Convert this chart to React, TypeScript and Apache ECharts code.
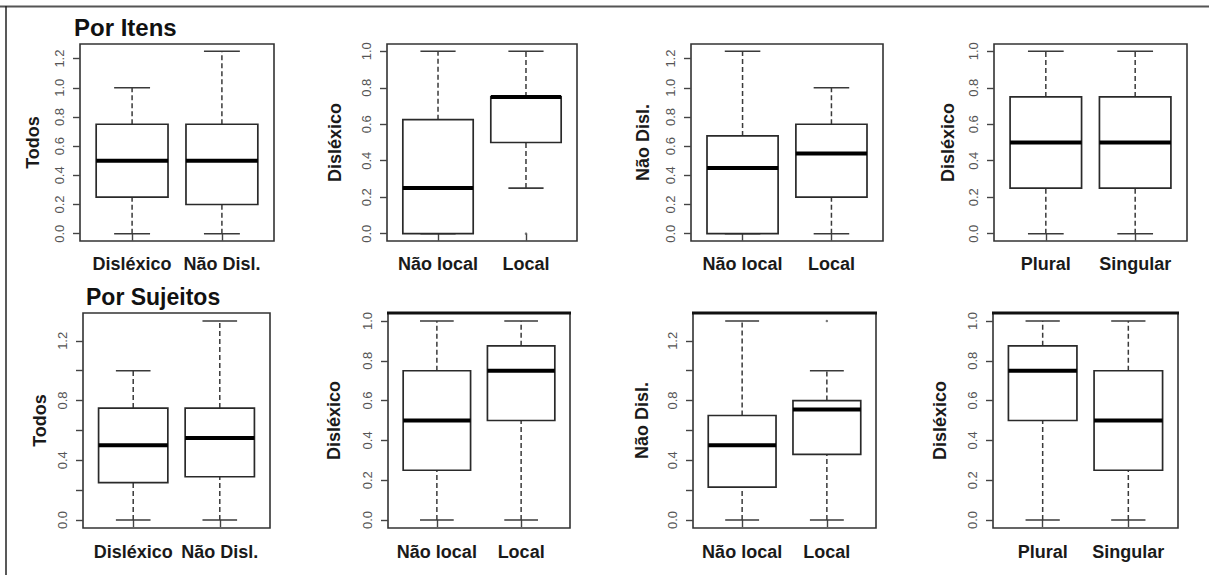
import React, { useEffect, useRef } from 'react';
import * as echarts from 'echarts';

// ---------- data ----------
const catsGrupo = ['Disléxico', 'Não Disl.'];
const catsLocal = ['Não local', 'Local'];
const catsNumero = ['Plural', 'Singular'];

// each box: [min, Q1, median, Q3, max]
const itensTodos = [[0, 0.25, 0.5, 0.75, 1.0], [0, 0.2, 0.5, 0.75, 1.25]];
const itensDislexicoLocal = [[0, 0, 0.25, 0.625, 1.0], [0.25, 0.5, 0.75, 0.75, 1.0]];
const itensNaoDislLocal = [[0, 0, 0.45, 0.67, 1.25], [0, 0.25, 0.55, 0.75, 1.0]];
const itensDislexicoNumero = [[0, 0.25, 0.5, 0.75, 1.0], [0, 0.25, 0.5, 0.75, 1.0]];
const sujeitosTodos = [[0, 0.25, 0.5, 0.75, 1.0], [0, 0.29, 0.55, 0.75, 1.333]];
const sujeitosDislexicoLocal = [[0, 0.25, 0.5, 0.75, 1.0], [0, 0.5, 0.75, 0.875, 1.0]];
const sujeitosNaoDislLocal = [[0, 0.22, 0.5, 0.7, 1.333], [0, 0.44, 0.74, 0.8, 1.0]];
const sujeitosDislexicoNumero = [[0, 0.5, 0.75, 0.875, 1.0], [0, 0.25, 0.5, 0.75, 1.0]];

// outliers: [box position, value]
const itensDislexicoLocalOut = [[2, 0]];
const sujeitosNaoDislLocalOut = [[2, 1.333]];

const ticks12 = [0, 0.2, 0.4, 0.6, 0.8, 1.0, 1.2];
const ticks10 = [0, 0.2, 0.4, 0.6, 0.8, 1.0];
const labels12Sparse = [0, 0.4, 0.8, 1.2];

const titleItens = 'Por Itens';
const titleSujeitos = 'Por Sujeitos';

// ---------- layout ----------
const FONT = "'Liberation Sans', Arial, Helvetica, sans-serif";

const panels = [
  { cats: catsGrupo, boxes: itensTodos, out: [], yName: 'Todos', ticks: ticks12, labels: ticks12, g: [80, 44, 194, 197], nameGap: 38, xm: 14 },
  { cats: catsLocal, boxes: itensDislexicoLocal, out: itensDislexicoLocalOut, yName: 'Disléxico', ticks: ticks10, labels: ticks10, g: [387, 44, 190, 197], nameGap: 43, xm: 14 },
  { cats: catsLocal, boxes: itensNaoDislLocal, out: [], yName: 'Não Disl.', ticks: ticks12, labels: ticks12, g: [691, 44, 192, 197], nameGap: 39, xm: 14 },
  { cats: catsNumero, boxes: itensDislexicoNumero, out: [], yName: 'Disléxico', ticks: ticks10, labels: ticks10, g: [994, 44, 193, 197], nameGap: 37, xm: 14 },
  { cats: catsGrupo, boxes: sujeitosTodos, out: [], yName: 'Todos', ticks: ticks12, labels: labels12Sparse, g: [83, 313, 187, 215], nameGap: 34, xm: 15 },
  { cats: catsLocal, boxes: sujeitosDislexicoLocal, out: [], yName: 'Disléxico', ticks: ticks10, labels: ticks10, g: [388, 313, 182, 215], nameGap: 45, xm: 15 },
  { cats: catsLocal, boxes: sujeitosNaoDislLocal, out: sujeitosNaoDislLocalOut, yName: 'Não Disl.', ticks: ticks12, labels: labels12Sparse, g: [693, 313, 183, 215], nameGap: 42, xm: 15 },
  { cats: catsNumero, boxes: sujeitosDislexicoNumero, out: [], yName: 'Disléxico', ticks: ticks10, labels: ticks10, g: [993, 313, 185, 215], nameGap: 44, xm: 15 },
];

const STROKE = '#2a2a2a';

const renderBox = (_params: any, api: any) => {
  const x = api.value(0);
  const mn = api.value(1);
  const q1 = api.value(2);
  const md = api.value(3);
  const q3 = api.value(4);
  const mx = api.value(5);
  const c = (xx: number, yy: number) => api.coord([xx, yy]);
  const hw = 0.4;
  const sw = 0.2;
  const children: any[] = [];
  const line = (a: number[], b: number[], w: number, dash?: number[], color = STROKE) => ({
    type: 'line',
    shape: { x1: a[0], y1: a[1], x2: b[0], y2: b[1] },
    style: { stroke: color, lineWidth: w, lineDash: dash },
  });
  // whiskers
  children.push(line(c(x, q3), c(x, mx), 1.5, [5, 3], '#3a3a3a'));
  children.push(line(c(x, mn), c(x, q1), 1.5, [5, 3], '#3a3a3a'));
  // staples
  children.push(line(c(x - sw, mx), c(x + sw, mx), 1.6, undefined, '#3a3a3a'));
  children.push(line(c(x - sw, mn), c(x + sw, mn), 1.6, undefined, '#3a3a3a'));
  // box
  const tl = c(x - hw, q3);
  const br = c(x + hw, q1);
  children.push({
    type: 'rect',
    shape: { x: tl[0], y: tl[1], width: br[0] - tl[0], height: br[1] - tl[1] },
    style: { fill: '#ffffff', stroke: STROKE, lineWidth: 1.7 },
  });
  // median
  children.push(line(c(x - hw, md), c(x + hw, md), 4, undefined, '#000'));
  return { type: 'group', children };
};

export default function App() {
  const ref = useRef<HTMLDivElement>(null);

  useEffect(() => {
    if (!ref.current) return;
    const chart = echarts.init(ref.current, undefined, { renderer: 'svg' });

    const grid: any[] = [];
    const xAxis: any[] = [];
    const yAxis: any[] = [];
    const series: any[] = [];

    panels.forEach((p, i) => {
      const [left, top, width, height] = p.g;
      const allVals = p.boxes.flat().concat(p.out.map((o) => o[1]));
      const dMax = Math.max(...allVals);
      const dMin = Math.min(...allVals);
      const ext = (dMax - dMin) * 0.04;
      grid.push({
        left, top, width, height,
        show: true,
        borderColor: '#333',
        borderWidth: 1.6,
        backgroundColor: 'transparent',
        containLabel: false,
      });
      xAxis.push({
        type: 'value',
        gridIndex: i,
        min: 0.42,
        max: 2.58,
        splitLine: { show: false },
        axisLine: { show: false },
        axisTick: { show: true, customValues: [1, 2], length: 7, lineStyle: { color: '#444', width: 1.4 } },
        axisLabel: {
          customValues: [1, 2],
          formatter: (v: number) => p.cats[Math.round(v) - 1],
          fontSize: 18,
          fontWeight: 'bold',
          color: '#1a1a1a',
          fontFamily: FONT,
          margin: p.xm,
        },
      });
      yAxis.push({
        type: 'value',
        gridIndex: i,
        min: dMin - ext,
        max: dMax + ext,
        splitLine: { show: false },
        axisLine: { show: false },
        axisTick: { show: true, customValues: p.ticks, length: 7, lineStyle: { color: '#444', width: 1.4 } },
        axisLabel: {
          customValues: p.labels,
          formatter: (v: number) => v.toFixed(1),
          rotate: 90,
          fontSize: 13,
          color: '#555',
          fontFamily: FONT,
          margin: 14,
        },
        name: p.yName,
        nameLocation: 'middle',
        nameGap: p.nameGap,
        nameTextStyle: { fontSize: 18, fontWeight: 'bold', color: '#1a1a1a', fontFamily: FONT },
      });
      series.push({
        type: 'custom',
        xAxisIndex: i,
        yAxisIndex: i,
        renderItem: renderBox,
        encode: { x: 0, y: [1, 2, 3, 4, 5] },
        data: p.boxes.map((b, k) => [k + 1, ...b]),
        silent: true,
      });
      if (p.out.length) {
        series.push({
          type: 'scatter',
          xAxisIndex: i,
          yAxisIndex: i,
          data: p.out,
          symbol: 'circle',
          symbolSize: 2.5,
          itemStyle: { color: '#555' },
          silent: true,
        });
      }
    });

    const thickTops = [5, 6, 7].map((i) => {
      const [left, top, width] = panels[i].g;
      return {
        type: 'line',
        shape: { x1: left - 1, y1: top, x2: left + width + 1, y2: top },
        style: { stroke: '#111', lineWidth: 3 },
        silent: true,
      };
    });

    chart.setOption({
      animation: false,
      backgroundColor: '#ffffff',
      title: [
        { text: titleItens, left: 74, top: 15, padding: 0, textStyle: { fontSize: 24, fontWeight: 'bold', color: '#111', fontFamily: FONT } },
        { text: titleSujeitos, left: 86, top: 285, padding: 0, textStyle: { fontSize: 23, fontWeight: 'bold', color: '#111', fontFamily: FONT } },
      ],
      grid,
      xAxis,
      yAxis,
      series,
      graphic: [
        { type: 'line', shape: { x1: 0, y1: 6.5, x2: 1209, y2: 6.5 }, style: { stroke: '#555', lineWidth: 2 }, silent: true },
        { type: 'line', shape: { x1: 6, y1: 6, x2: 6, y2: 575 }, style: { stroke: '#222', lineWidth: 1.5 }, silent: true },
        ...thickTops,
      ],
    });

    return () => chart.dispose();
  }, []);

  return (
    <div
      ref={ref}
      style={{ position: 'fixed', left: 0, top: 0, width: 1209, height: 575, background: '#fff' }}
    />
  );
}
